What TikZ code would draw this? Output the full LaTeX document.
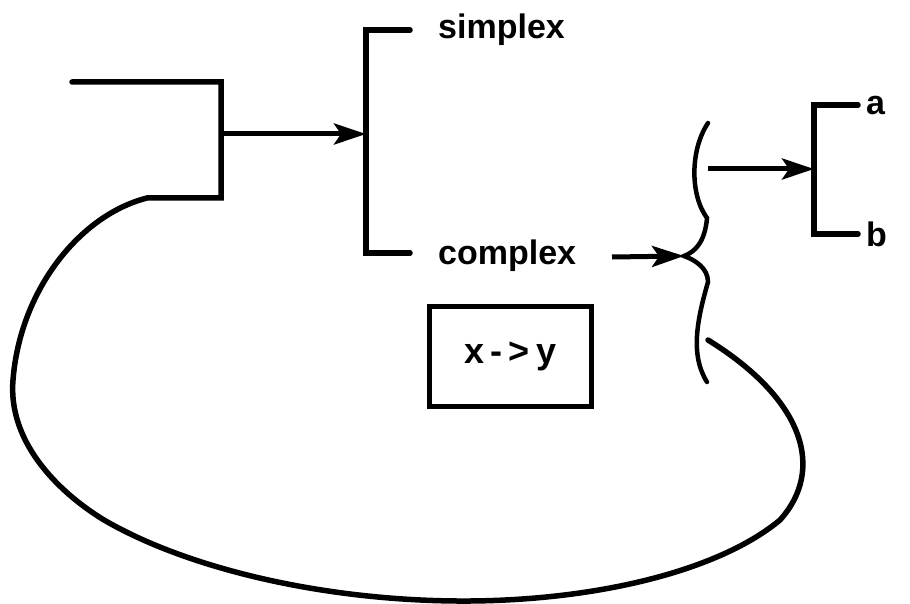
\documentclass[tikz,border=0pt]{standalone}
\usepackage{fontspec}
\setmainfont{Liberation Sans}
\usetikzlibrary{arrows.meta}
\begin{document}
\begin{tikzpicture}[x=1pt,y=-1pt,
  ln/.style={line width=5.5pt,line join=miter,line cap=round},
  thin/.style={line width=4.5pt,line cap=round},
  arr/.style={line width=5pt,-{Stealth[length=32pt,width=21pt,inset=7pt]}},
  lbl/.style={font=\fontsize{34}{38}\selectfont\bfseries,inner sep=0pt,anchor=west},
  boxst/.style={draw,line width=5.5pt,minimum width=162pt,minimum height=100pt,inner sep=0pt,font=\fontsize{36}{40}\selectfont\bfseries}]
\useasboundingbox (0,0) rectangle (910,604);
% nodes
\node[lbl] (simplex) at (438,30) {simplex};
\node[lbl] (complex) at (438,256) {complex};
\node[lbl] (a) at (866,106) {a};
\node[lbl] (b) at (866,234) {b};
\node[boxst] (box) at (510.5,356.5) {x\,-\,>\,y};
% coordinates
\coordinate (src) at (221,134);
\coordinate (brk) at (366,134);
\coordinate (bt) at (366,30);
\coordinate (bb) at (366,253);
\coordinate (tip) at (684,256);
\coordinate (bfrom) at (708,169);
\coordinate (sbr) at (814,169);
\coordinate (st) at (814,105);
\coordinate (sb) at (814,234);
% left shape and big loop
\draw[ln] (72,82) -- (221,82) -- (221,198) -- (147,198)
  .. controls (80,215) and (20,290) .. (13,380)
  .. controls (8,440) and (55,490) .. (104,520)
  .. controls (190,570) and (330,602) .. (470,601)
  .. controls (600,600) and (720,570) .. (780,520)
  .. controls (825,470) and (805,400) .. (708,340);
% main bracket
\draw[ln] (410,30) -- (bt) -- (bb) -- (410,253);
\draw[arr] (src) -- (brk);
% brace
\draw[thin] (708,123) .. controls (690,150) and (690,195) .. (707,218)
  .. controls (705,242) and (695,252) .. (tip)
  .. controls (695,260) and (708,268) .. (708,282)
  .. controls (697,320) and (690,355) .. (707,382);
\draw[arr] (612,257) -- (tip);
% small bracket
\draw[ln] (858,105) -- (st) -- (sb) -- (858,234);
\draw[arr] (bfrom) -- (sbr);
\end{tikzpicture}
\end{document}
